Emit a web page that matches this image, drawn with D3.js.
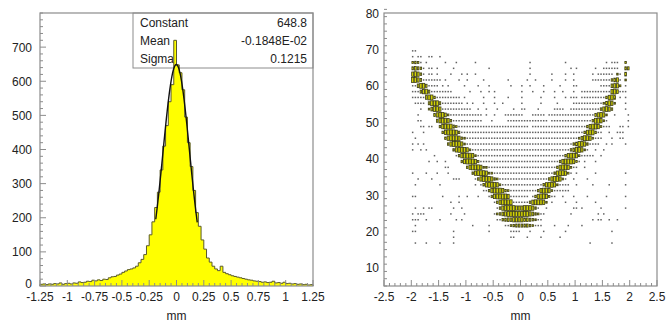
<!DOCTYPE html>
<html><head><meta charset="utf-8">
<script src="https://cdn.jsdelivr.net/npm/d3@7/dist/d3.min.js"></script>
<style>
body{margin:0;background:#fff}
svg{display:block}
text{font-family:"Liberation Sans",Arial,Helvetica,sans-serif;font-size:12px;fill:#222}
</style>
</head><body>
<svg id="c" width="666" height="322"></svg>
<script>
// ---------- left: residual histogram ----------
const histLo = -1.25, histHi = 1.25;
const histCounts = [
  5,6,4,6,5,7,6,9,5,7,
  8,6,9,8,12,10,11,14,13,17,
  15,18,16,20,19,24,27,28,32,35,
  40,44,48,50,53,58,68,78,92,118,
  150,188,230,275,340,410,470,540,590,720,
  648,625,575,495,420,350,280,215,175,135,
  108,82,70,58,50,45,58,40,36,33,
  30,28,26,24,22,20,18,17,15,14,
  13,11,12,10,11,14,9,10,8,11,
  7,8,6,7,5,6,4,5,3,4
];
const fitConstant = 648.8, fitMean = -0.1848e-2, fitSigma = 0.1215;
const fitRange = [-0.19, 0.19];
const statLabels = ["Constant", "Mean", "Sigma"];
const statValues = ["648.8", "-0.1848E-02", "0.1215"];
const leftXTicks = [-1.25,-1,-0.75,-0.5,-0.25,0,0.25,0.5,0.75,1,1.25];
const leftXLabels = ["-1.25","-1","-0.75","-0.5","-0.25","0","0.25","0.5","0.75","1","1.25"];
const leftYTicks = [0,100,200,300,400,500,600,700];
const leftYMax = 800;

// ---------- right: 2D box histogram ----------
const scatXDomain = [-2.5, 2.5];
const scatYDomain = [5, 80];
const scatXFirst = -2.0, scatXBin = 0.05;   // x bin edges
const scatYBin = 1.6, scatTopRow = 43;       // y bin edges (rows counted from 0)
// each row (top row first): tokens "startColumn:levels"
const scatRows = [
  "0:21",
  "0:2 2:21 6:12 10:1",
  "0:3431 5:1 12:1 16:1 23:1 43:1 56:1 71:1 73:121 78:3",
  "0:56542 6:11 9:1 15:1 28:1 43:1 58:1 60:1 67:1 70:11 72:1221 78:55",
  "0:7874 4:2 6:11 9:1 14:1 18:1 20:1 23:1 43:1 51:1 56:1 59:1 66:1 68:1111 72:12 75:31 78:6",
  "0:88752 5:1111 9:11 12:1 17:1 20:1 26:1 35:1 42:1 45:1 51:1 56:1 59:1 66:111 69:1112 73:4671 78:3",
  "0:21 2:6885 6:211 9:1 11:1 13:1 19:1 24:1 28:1 36:1 40:1 43:1 48:1 54:1 59:11 69:1111 73:6773 78:2",
  "0:111 3:57852 8:11111 12:111 21:1 25:1 28:1 30:1 40:1 44:1 48:1 52:1 55:1 59:1 62:11111111 70:112 73:7862 77:11",
  "0:1111 4:26884 9:1111 13:11111 19:1 26:1 30:1 35:1 40:1 47:1 52:1 56:1 58:111 62:111111111 70:14786 76:1 78:1",
  "1:1111 6:58885 11:11111111 20:1 22:1 26:1 30:1 33:1 40:1 47:1 53:1 59:11111111111 69:136873 78:1",
  "3:1 6:36887 11:11111111111 24:1 27:1 31:1 37:1 40:11 46:1 52:1111 58:11111111111 68:147874 78:1",
  "2:1 8:578863 14:111111111111 27:1 30:1 34:1111111 44:11111 50:11111111111111111 66:157873 74:1 79:1",
  "2:11 9:578874 15:11111111111 29:1 35:111111111111111 51:111111111111111 65:148873 71:1 79:1",
  "3:11 6:11 10:4788853 17:11111111111111111111121111 44:1111111111111111111111 63:1478873 70:111 76:11 79:1",
  "0:1 4:1 11:4788874 18:111111112111111111111111111111111111111111111111 62:147884 68:11 72:1 75:111",
  "1:1 12:47888743 20:1111111111111111111111111111111111111111111 60:1368873 67:111 73:1 76:11",
  "0:1 2:1 4:1 13:4788873 20:11111111111111111111111111111111111111111 58:1468874 65:1111 71:1 73:1 78:1",
  "0:1 3:1 5:1 15:4788873 22:111111111111111111111111111111111111 57:1468873 64:1 67:1 70:1",
  "8:1 16:14788873 24:1111111111111111111111111111111111 55:1478873 62:111 65:11 69:1",
  "6:1 9:1 12:1 18:4788873 25:11111111111111111111111111111 53:14788873 61:1 63:1 67:1",
  "12:11 20:47888733 28:1111111111111111111111111 52:1478873 59:11 63:1",
  "0:1 5:1 9:1 13:1 22:47888733 30:11111111111111111111111 51:1478873 58:1 60:1 67:1 78:1",
  "2:1 7:1 15:1 16:11 23:147888743 32:11111111111111111111 49:1478873 56:1 59:1 64:1",
  "1:1 10:1 23:1 25:14788873 33:1111111111111111 47:1478873 54:1111 60:1 66:1 72:1 78:1",
  "26:11 27:147888743 36:1111111111 45:1478873 52:111111 57:1",
  "0:11 11:1 17:1 20:1 24:1 28:14788887 36:1111111 44:1478873 51:11 55:1 59:1 64:1 71:1 78:1",
  "14:1 17:1 30:1478888 37:111111 42:14788873 51:1 56:1 60:1 67:1",
  "1:1 4:1 6:11 15:1 18:1 31:1478888777888741 49:1 59:11 62:1 69:1 78:1",
  "0:1 2:111 14:1 19:1 30:1346788888888764311 58:1 68:1 70:1",
  "0:111 5:1 10:1 16:1 18:1 31:12456677776654321 66:1 68:11 72:1 75:1",
  "1:1 22:1 28:1 34:11345555543211 52:1 57:1 62:1",
  "0:11 15:1 28:1 36:1111 43:1 48:1 56:1 73:1",
  "15:1 36:11 42:1 47:1 54:1",
  "1:1 5:1 10:1 15:1 65:1 73:1"
];
const scatMaxLevel = 9;
const rightXTicks = [-2.5,-2,-1.5,-1,-0.5,0,0.5,1,1.5,2,2.5];
const rightXLabels = ["-2.5","-2","-1.5","-1","-0.5","0","0.5","1","1.5","2","2.5"];
const rightYTicks = [10,20,30,40,50,60,70,80];
const axisTitle = "mm";

// ================= drawing =================
const svg = d3.select("#c");
const frameCol = "#8c8c8c";

function frameAndAxes(x, y, xMajor, xLabels, xMinorStep, yMajor, yMinorStep, yLabelGap) {
  const [x0, x1] = x.range(), [yb, yt] = y.range();
  const g = svg.append("g");
  g.append("rect").attr("x", x0).attr("y", yt).attr("width", x1 - x0).attr("height", yb - yt)
    .attr("fill", "none").attr("stroke", frameCol).attr("stroke-width", 1.2);
  const [dx0, dx1] = x.domain();
  const nx = Math.round((dx1 - dx0) / xMinorStep);
  for (let i = 0; i <= nx; i++) {
    const v = dx0 + i * xMinorStep;
    const major = xMajor.some(t => Math.abs(t - v) < 1e-9);
    g.append("line").attr("x1", x(v)).attr("x2", x(v)).attr("y1", yb).attr("y2", yb - (major ? 6 : 3))
      .attr("stroke", frameCol).attr("stroke-width", 1);
  }
  xMajor.forEach((t, i) => {
    g.append("text").attr("x", x(t)).attr("y", 301).attr("text-anchor", "middle").text(xLabels[i]);
  });
  const [dy0, dy1] = y.domain();
  const ny = Math.round((dy1 - dy0) / yMinorStep);
  for (let i = 0; i <= ny; i++) {
    const v = dy0 + i * yMinorStep;
    const major = yMajor.some(t => Math.abs(t - v) < 1e-9);
    g.append("line").attr("x1", x0).attr("x2", x0 + (major ? 6 : 3)).attr("y1", y(v)).attr("y2", y(v))
      .attr("stroke", frameCol).attr("stroke-width", 1);
  }
  yMajor.forEach(t => {
    g.append("text").attr("x", x0 - yLabelGap).attr("y", y(t) + (t === 0 ? 2 : 4.5))
      .attr("text-anchor", "end").text(t);
  });
  g.append("text").attr("x", x(0)).attr("y", 320).attr("text-anchor", "middle").text(axisTitle);
}

// ---- left panel ----
const xL = d3.scaleLinear().domain([histLo, histHi]).range([40, 313]);
const yL = d3.scaleLinear().domain([0, leftYMax]).range([286, 13]);
const binW = (histHi - histLo) / histCounts.length;

const sb = svg.append("g");
sb.append("rect").attr("x", 133).attr("y", 13).attr("width", 180).attr("height", 55)
  .attr("fill", "#fff").attr("stroke", frameCol).attr("stroke-width", 1);
statLabels.forEach((s, i) => {
  sb.append("text").attr("x", 140).attr("y", 27 + i * 18).text(s);
  sb.append("text").attr("x", 307).attr("y", 27 + i * 18).attr("text-anchor", "end").text(statValues[i]);
});

let p = d3.path();
p.moveTo(xL(histLo), yL(0));
histCounts.forEach((c, i) => {
  p.lineTo(xL(histLo + i * binW), yL(c));
  p.lineTo(xL(histLo + (i + 1) * binW), yL(c));
});
p.lineTo(xL(histHi), yL(0));
svg.append("path").attr("d", p.toString()).attr("fill", "#ffff00")
  .attr("stroke", "#5a5a2a").attr("stroke-width", 1);

const fitXs = d3.range(fitRange[0], fitRange[1] + 1e-9, 0.004);
svg.append("path").datum(fitXs)
  .attr("d", d3.line().x(v => xL(v)).y(v => yL(fitConstant * Math.exp(-0.5 * ((v - fitMean) / fitSigma) ** 2))))
  .attr("fill", "none").attr("stroke", "#111").attr("stroke-width", 1.4);

frameAndAxes(xL, yL, leftXTicks, leftXLabels, 0.05, leftYTicks, 20, 8);

// ---- right panel ----
const xR = d3.scaleLinear().domain(scatXDomain).range([384, 657]);
const yR = d3.scaleLinear().domain(scatYDomain).range([286, 13]);
const cellW = xR(scatXBin) - xR(0), cellH = yR(0) - yR(scatYBin);
const cells = [];
scatRows.forEach((row, r) => {
  const j = scatTopRow - r;
  const levels = [];
  row.split(/\s+/).filter(Boolean).forEach(tok => {
    const [k, digits] = tok.split(":");
    digits.split("").forEach((d, i) => {
      const c = +k + i;
      levels[c] = Math.max(levels[c] || 0, +d);
    });
  });
  levels.forEach((lv, c) => {
    if (lv > 0) cells.push({ x: scatXFirst + (c + 0.5) * scatXBin, y: (j + 0.5) * scatYBin, lv });
  });
});
const bg = svg.append("g");
cells.forEach(d => {
  const f = d.lv / scatMaxLevel * 0.95;
  const w = Math.max(1.5, cellW * f), h = Math.max(1.5, cellH * f);
  const big = d.lv >= 3;
  bg.append("rect").attr("x", xR(d.x) - w / 2).attr("y", yR(d.y) - h / 2)
    .attr("width", w).attr("height", h)
    .attr("fill", big ? "#d4d400" : "#3a3a3a")
    .attr("fill-opacity", big ? 1 : 0.8)
    .attr("stroke", big ? "#3c3c18" : "none").attr("stroke-width", 0.8);
});

frameAndAxes(xR, yR, rightXTicks, rightXLabels, 0.1, rightYTicks, 2, 5);
</script>
</body></html>
